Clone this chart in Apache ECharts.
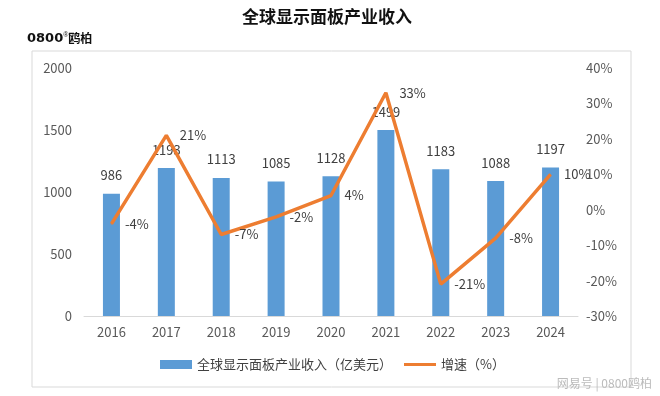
<!DOCTYPE html>
<html>
<head>
<meta charset="utf-8">
<title>全球显示面板产业收入</title>
<script src="https://cdn.jsdelivr.net/npm/echarts@6/dist/echarts.min.js"></script>
<style>
    html, body { margin: 0; padding: 0; background: #fff; }
    #main { width: 660px; height: 396px; }
</style>
</head>
<body>
<div id="main"></div>
<script>
    // 数据
    const years = ['2016', '2017', '2018', '2019', '2020', '2021', '2022', '2023', '2024'];
    const revenue = [986, 1193, 1113, 1085, 1128, 1499, 1183, 1088, 1197];
    const growth = [-4, 21, -7, -2, 4, 33, -21, -8, 10];

    const barName = '全球显示面板产业收入（亿美元）';
    const lineName = '增速（%）';
    const font = '"Noto Sans CJK SC", "Noto Sans", sans-serif';

    let myChart = echarts.init(document.getElementById('main'));

    let option = {
        backgroundColor: '#fff',
        textStyle: { fontFamily: font },
        title: {
            text: '全球显示面板产业收入',
            left: 322,
            textAlign: 'center',
            top: 3,
            textStyle: { fontSize: 17, fontWeight: 'bold', color: '#111', fontFamily: font }
        },
        graphic: [
            {
                // 外框
                type: 'rect',
                shape: { x: 32, y: 51, width: 599, height: 336 },
                style: { fill: 'none', stroke: '#d9d9d9', lineWidth: 1 },
                silent: true
            },
            {
                // logo
                type: 'text',
                left: 27,
                top: 32,
                style: {
                    text: '{a|0800}{r|®}{b|鸥柏}',
                    rich: {
                        a: { fontSize: 13, fontWeight: 'bold', fill: '#111', fontFamily: 'DejaVu Sans' },
                        r: { fontSize: 7, fill: '#111', verticalAlign: 'top', padding: [0, 0, 6, 0] },
                        b: { fontSize: 12, fontWeight: 'bold', fill: '#111', fontFamily: font }
                    }
                }
            },
            {
                // 水印
                type: 'text',
                right: 8,
                bottom: 7,
                style: { text: '网易号 | 0800鸥柏', fontSize: 12, fill: '#bbb', fontFamily: font }
            }
        ],
        legend: {
            bottom: 20,
            left: 155,
            itemGap: 12,
            itemWidth: 32,
            itemHeight: 9,
            textStyle: { fontSize: 13, color: '#404040', fontFamily: font },
            data: [
                { name: barName, icon: 'rect' },
                { name: lineName, icon: 'path://M0,0 L32,0 L32,3 L0,3 Z', itemStyle: { color: '#ED7D31' } }
            ]
        },
        grid: { left: 84, right: 82, top: 68, bottom: 80 },
        xAxis: {
            type: 'category',
            data: years,
            axisLine: { lineStyle: { color: '#d9d9d9' } },
            axisTick: { show: false },
            axisLabel: { fontSize: 13, color: '#595959', margin: 10 }
        },
        yAxis: [
            {
                type: 'value',
                min: 0,
                max: 2000,
                interval: 500,
                splitLine: { show: false },
                axisLine: { show: false },
                axisLabel: { fontSize: 13, color: '#595959', margin: 12, formatter: function (v) { return String(v); } }
            },
            {
                type: 'value',
                min: -30,
                max: 40,
                interval: 10,
                splitLine: { show: false },
                axisLine: { show: false },
                axisLabel: { fontSize: 13, color: '#595959', margin: 8, formatter: '{value}%' }
            }
        ],
        series: [
            {
                name: barName,
                type: 'bar',
                data: revenue,
                barWidth: 17,
                itemStyle: { color: '#5B9BD5' },
                label: {
                    show: true,
                    position: 'top',
                    distance: 12,
                    fontSize: 13,
                    color: '#404040'
                }
            },
            {
                name: lineName,
                type: 'line',
                yAxisIndex: 1,
                data: growth,
                symbol: 'circle',
                symbolSize: 1,
                showSymbol: true,
                lineStyle: { color: '#ED7D31', width: 3.5 },
                itemStyle: { color: '#ED7D31' },
                z: 3,
                label: {
                    show: true,
                    position: 'right',
                    distance: 13,
                    fontSize: 13,
                    color: '#404040',
                    formatter: '{c}%'
                }
            }
        ]
    };

    myChart.setOption(option);
</script>
</body>
</html>
